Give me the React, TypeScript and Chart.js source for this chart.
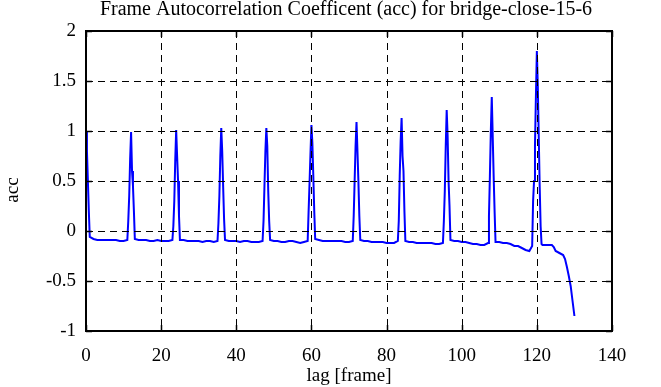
import React, { useEffect, useRef } from "react";
import { Chart, registerables } from "chart.js";

Chart.register(...registerables);

const titleText = "Frame Autocorrelation Coefficent (acc) for bridge-close-15-6";
const xTitle = "lag [frame]";
const yTitle = "acc";

// integer lags 0..130
const baseLags = Array.from({ length: 131 }, (_, i) => i);
const baseAcc = [
  1.0, -0.06, -0.08, -0.09, -0.09, -0.09, -0.09, -0.09, -0.09, -0.1,
  -0.1, -0.09, 0.99, -0.08, -0.09, -0.09, -0.09, -0.1, -0.1, -0.09,
  -0.1, -0.1, -0.1, -0.09, 1.01, -0.09, -0.09, -0.1, -0.1, -0.1,
  -0.1, -0.11, -0.1, -0.1, -0.11, -0.1, 1.03, -0.09, -0.1, -0.1,
  -0.1, -0.11, -0.1, -0.1, -0.11, -0.11, -0.11, -0.1, 1.03, -0.09,
  -0.1, -0.1, -0.11, -0.11, -0.1, -0.1, -0.11, -0.12, -0.11, -0.1,
  1.06, -0.08, -0.09, -0.1, -0.1, -0.1, -0.1, -0.1, -0.1, -0.11,
  -0.11, -0.1, 1.09, -0.09, -0.1, -0.1, -0.11, -0.11, -0.11, -0.11,
  -0.12, -0.12, -0.12, -0.1, 1.13, -0.1, -0.11, -0.11, -0.12, -0.12,
  -0.12, -0.12, -0.12, -0.13, -0.13, -0.12, 1.21, -0.09, -0.1, -0.1,
  -0.11, -0.11, -0.12, -0.13, -0.13, -0.14, -0.14, -0.12, 1.34, -0.11,
  -0.11, -0.12, -0.12, -0.13, -0.15, -0.15, -0.17, -0.19, -0.2, 0.3,
  1.8, 0.05, -0.14, -0.14, -0.14, -0.2, -0.22, -0.24, -0.36, -0.55,
  -0.85,
];

// sub-frame samples around the periodic peaks
const peakLags = [
  0.25, 0.5, 0.75,
  11.25, 11.5, 11.75, 12.25, 12.5, 12.75,
  23.25, 23.5, 23.75, 24.25, 24.5, 24.75,
  35.25, 35.5, 35.75, 36.25, 36.5, 36.75,
  47.25, 47.5, 47.75, 48.25, 48.5, 48.75,
  59.25, 59.5, 59.75, 60.25, 60.5, 60.75,
  71.25, 71.5, 71.75, 72.25, 72.5, 72.75,
  83.25, 83.5, 83.75, 84.25, 84.5, 84.75,
  95.25, 95.5, 95.75, 96.25, 96.5, 96.75,
  107.25, 107.5, 107.75, 108.25, 108.5, 108.75,
  118.75, 119.25, 119.5, 119.75, 120.25, 120.5, 120.75, 121.25,
];
const peakAcc = [
  0.8, 0.5, 0.2,
  0.1, 0.35, 0.72, 0.6, 0.45, 0.2,
  0.05, 0.3, 0.7, 0.75, 0.5, 0.15,
  0.08, 0.35, 0.75, 0.8, 0.45, 0.12,
  0.1, 0.45, 0.8, 0.85, 0.4, 0.1,
  0.2, 0.48, 0.78, 0.88, 0.55, 0.2,
  0.15, 0.5, 0.85, 0.8, 0.5, 0.15,
  0.1, 0.55, 0.9, 0.75, 0.6, 0.2,
  0.1, 0.4, 0.85, 0.95, 0.5, 0.25,
  0.15, 0.55, 1.0, 0.95, 0.55, 0.2,
  -0.15, 0.5, 0.85, 1.35, 1.45, 0.95, 0.45, -0.13,
];

// sub-frame samples on the final drop
const tailLags = [121.5, 124.5, 127.5, 128.5, 129.5];
const tailAcc = [-0.14, -0.16, -0.28, -0.45, -0.7];

const xTicks = [0, 20, 40, 60, 80, 100, 120, 140];
const yTicks = [-1, -0.5, 0, 0.5, 1, 1.5, 2];

const FONT = '"Liberation Serif", "Times New Roman", serif';

const framePlugin = {
  id: "framePlugin",
  afterDatasetsDraw(chart: any) {
    const { ctx, chartArea: a, scales } = chart;
    const xs = scales.x;
    const ys = scales.y;
    ctx.save();
    ctx.strokeStyle = "#000";
    ctx.lineWidth = 1;
    ctx.setLineDash([7, 5]);
    xTicks.forEach((v) => {
      const px = Math.round(xs.getPixelForValue(v)) + 0.5;
      if (v === xTicks[0] || v === xTicks[xTicks.length - 1]) return;
      ctx.beginPath();
      ctx.moveTo(px, a.top);
      ctx.lineTo(px, a.bottom);
      ctx.stroke();
    });
    yTicks.forEach((v) => {
      const py = Math.round(ys.getPixelForValue(v)) + 0.5;
      if (v === yTicks[0] || v === yTicks[yTicks.length - 1]) return;
      ctx.beginPath();
      ctx.moveTo(a.left, py);
      ctx.lineTo(a.right, py);
      ctx.stroke();
    });
    ctx.setLineDash([]);
    ctx.lineWidth = 1.5;
    xTicks.forEach((v) => {
      const px = Math.round(xs.getPixelForValue(v)) + 0.5;
      ctx.beginPath();
      ctx.moveTo(px, a.bottom);
      ctx.lineTo(px, a.bottom - 6);
      ctx.moveTo(px, a.top);
      ctx.lineTo(px, a.top + 6);
      ctx.stroke();
    });
    yTicks.forEach((v) => {
      const py = Math.round(ys.getPixelForValue(v)) + 0.5;
      ctx.beginPath();
      ctx.moveTo(a.left, py);
      ctx.lineTo(a.left + 6, py);
      ctx.moveTo(a.right, py);
      ctx.lineTo(a.right - 6, py);
      ctx.stroke();
    });
    ctx.lineWidth = 2;
    ctx.strokeRect(a.left, a.top, a.right - a.left, a.bottom - a.top);
    ctx.restore();
  },
  afterDraw(chart: any) {
    const { ctx, chartArea: a } = chart;
    ctx.save();
    ctx.fillStyle = "#000";
    ctx.textAlign = "center";
    ctx.textBaseline = "alphabetic";
    ctx.font = `20px ${FONT}`;
    ctx.fillText(titleText, (a.left + a.right) / 2 - 3, 15);
    ctx.font = `19px ${FONT}`;
    ctx.fillText(xTitle, (a.left + a.right) / 2, 381);
    ctx.translate(18, 190);
    ctx.rotate(-Math.PI / 2);
    ctx.fillText(yTitle, 0, 0);
    ctx.restore();
  },
};

export default function App() {
  const ref = useRef<HTMLCanvasElement | null>(null);
  useEffect(() => {
    const pts: { x: number; y: number }[] = [];
    baseLags.forEach((l, i) => pts.push({ x: l, y: baseAcc[i] }));
    peakLags.forEach((l, i) => pts.push({ x: l, y: peakAcc[i] }));
    tailLags.forEach((l, i) => pts.push({ x: l, y: tailAcc[i] }));
    pts.sort((p, q) => p.x - q.x);
    const chart = new Chart(ref.current!, {
      type: "line",
      data: {
        datasets: [
          {
            data: pts,
            borderColor: "#0000ff",
            borderWidth: 2,
            pointRadius: 0,
            tension: 0,
            fill: false,
          },
        ],
      },
      options: {
        animation: false,
        responsive: false,
        events: [],
        layout: { padding: { top: 31, right: 49, left: 0, bottom: 0 } },
        plugins: { legend: { display: false }, tooltip: { enabled: false }, title: { display: false } },
        scales: {
          x: {
            type: "linear",
            min: 0,
            max: 140,
            grid: { display: false, drawTicks: false },
            border: { display: false },
            ticks: {
              stepSize: 20,
              padding: 14,
              color: "#000",
              font: { family: FONT, size: 19 },
              maxRotation: 0,
              callback: (v: any) => String(v),
            },
            afterFit: (s: any) => {
              s.height = 56;
            },
          },
          y: {
            type: "linear",
            min: -1,
            max: 2,
            grid: { display: false, drawTicks: false },
            border: { display: false },
            ticks: {
              stepSize: 0.5,
              padding: 10,
              color: "#000",
              font: { family: FONT, size: 19 },
              callback: (v: any) => String(v),
            },
            afterFit: (s: any) => {
              s.width = 86;
            },
          },
        },
      },
      plugins: [framePlugin],
    });
    return () => chart.destroy();
  }, []);
  return (
    <div style={{ position: "fixed", left: 0, top: 0, width: 661, height: 387, background: "#fff" }}>
      <canvas ref={ref} width={661} height={387} style={{ width: 661, height: 387 }} />
    </div>
  );
}
